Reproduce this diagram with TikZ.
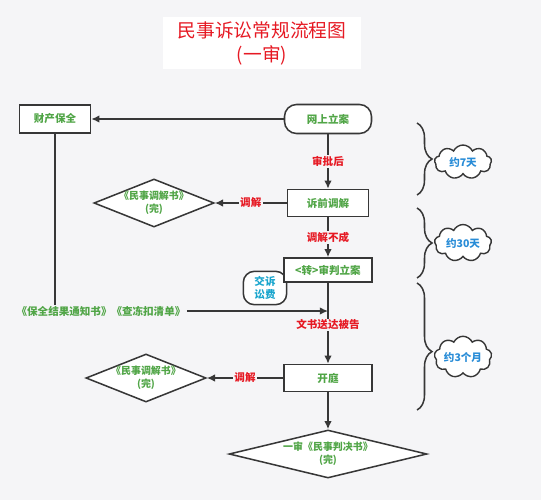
\documentclass[tikz,border=0pt]{standalone}
\usepackage{fontspec}
\setmainfont{Noto Sans CJK SC}
\usetikzlibrary{arrows.meta,shapes.geometric,shapes.symbols,decorations.pathreplacing}

\definecolor{bgcol}{RGB}{245,245,247}
\definecolor{linecol}{RGB}{55,55,55}
\definecolor{txtgreen}{RGB}{80,165,70}
\definecolor{txtred}{RGB}{230,25,35}
\definecolor{txtblue}{RGB}{40,140,215}
\definecolor{txtcyan}{RGB}{25,165,205}

\tikzset{
	stepbox/.style={draw=linecol,fill=white,line width=1.3pt,text=txtgreen,
		font=\fontsize{9}{11}\selectfont\bfseries,minimum height=0.82cm,inner sep=2pt},
	docdiamond/.style={shape=diamond,draw=linecol,fill=white,line width=1.3pt,text=txtgreen,
		font=\fontsize{8.5}{11}\selectfont\bfseries,align=center,inner sep=-1pt,aspect=2.5},
	flowlabel/.style={fill=bgcol,text=txtred,font=\fontsize{9}{11}\selectfont\bfseries,inner sep=1pt},
	flow/.style={draw=linecol,line width=1.3pt},
	tip/.style={-{Latex[length=7pt,width=6.5pt]}},
	feebubble/.style={draw=linecol,fill=white,line width=1.3pt,rounded corners=0.33cm,text=txtcyan,
		font=\fontsize{9}{11}\selectfont\bfseries,align=center,minimum width=1.3cm,minimum height=1cm,inner sep=1pt},
	timecloud/.style={cloud,cloud puffs=9,cloud puff arc=130,aspect=1.7,draw=linecol,fill=white,
		line width=1.2pt,text=txtblue,font=\fontsize{9}{11}\selectfont\bfseries,
		minimum width=1.71cm,minimum height=1.02cm,inner sep=0pt},
}

\begin{document}
\begin{tikzpicture}[
		x={(0.03cm,0cm)},
		y={(0cm,-0.03cm)},
	]
	\useasboundingbox (0,0) rectangle (541,500);
	\fill[bgcol] (0,0) rectangle (541,500);

	% title
	\node[fill=white,text=txtred,font=\fontsize{16}{20.5}\selectfont,align=center,
		minimum width=5.94cm,minimum height=1.47cm] (title) at (262,43) {民事诉讼常规流程图\\(一审)};

	% main steps
	\node[stepbox,minimum width=2.13cm,minimum height=0.84cm] (baoquan) at (55,119) {财产保全};
	\node[stepbox,minimum width=2.61cm,minimum height=0.87cm,rounded corners=0.36cm] (lian) at (328,119) {网上立案};
	\node[stepbox,minimum width=2.43cm,minimum height=0.81cm] (tiaojie) at (328,203) {诉前调解};
	\node[feebubble] (fee) at (265,288) {交诉\\讼费};
	\node[stepbox,minimum width=2.64cm,minimum height=0.72cm] (shenpan) at (328,270) {<转>审判立案};
	\node[stepbox,minimum width=2.64cm,minimum height=0.81cm] (kaiting) at (328,378) {开庭};

	% documents
	\node[docdiamond] (doc1) at (154,203) {《民事调解书》\\(完)};
	\node[docdiamond] (doc2) at (146,378) {《民事调解书》\\(完)};
	\node[docdiamond,aspect=5.2,minimum height=1.44cm] (doc3) at (328,454) {一审《民事判决书》\\(完)};
	\node[text=txtgreen,font=\fontsize{9}{11}\selectfont\bfseries,inner sep=1pt] (notice) at (101,311) {《保全结果通知书》《查冻扣清单》};
	\coordinate (join) at (328,311);

	% connectors
	\draw[flow,tip] (lian) -- (baoquan);
	\draw[flow,tip] (lian) -- node[flowlabel]{审批后} (tiaojie);
	\draw[flow,tip] (tiaojie) -- node[flowlabel]{调解} (doc1);
	\draw[flow,tip] (tiaojie) -- node[flowlabel]{调解不成} (shenpan);
	\draw[flow,tip] (shenpan) -- node[flowlabel,pos=0.52]{文书送达被告} (kaiting);
	\draw[flow,tip] (kaiting) -- node[flowlabel]{调解} (doc2);
	\draw[flow,tip] (kaiting) -- (doc3);
	\draw[flow] (baoquan) -- (baoquan |- notice.north);
	\draw[flow,tip] (notice) -- (join);

	% time spans
	\foreach \a/\b/\m/\c/\t in {123/195/0.5/162/约7天, 208/278/0.5/243/约30天, 283/410/0.54/357/约3个月}{
		\draw[flow,decorate,decoration={brace,amplitude=0.45cm,aspect=\m}] (417,\a) -- (417,\b);
		\node[timecloud] at (463,\c) {\t};
	}
\end{tikzpicture}
\end{document}
